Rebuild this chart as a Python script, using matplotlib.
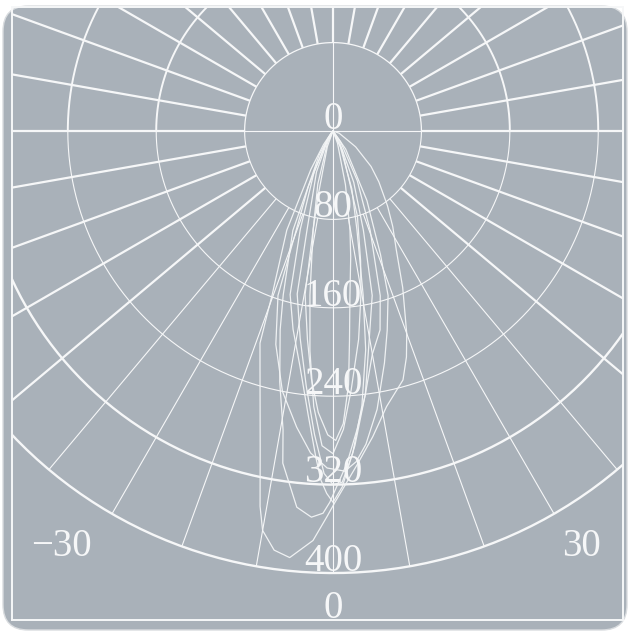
import numpy as np
import matplotlib
matplotlib.use("Agg")
import matplotlib.pyplot as plt
from matplotlib.patches import FancyBboxPatch

# polar grid: rings in cd/klm, spokes every 10 degrees (0 = nadir)
rings = [80, 160, 240, 320, 400]
ring_labels = ["0", "80", "160", "240", "320", "400"]
spokes = list(range(0, 360, 10))
angle_labels = ["\u221230", "30", "0"]

# light distribution curves, angle from nadir (deg, + to the right) and intensity
c1_theta = [-90, -45, -35, -30, -25, -20.4, -19, -17, -15, -13, -11, -10, -8, -5.8, -2.8, -0.9,
            0.3, 4.1, 7.4, 11, 15.7, 18, 20, 24, 28, 32, 36, 42, 47, 55, 70, 90]
c1_r = [0, 2, 15, 40, 99, 158, 203, 226, 255, 293, 346, 367, 383, 388, 371, 349,
        336, 303, 279, 254, 234, 215, 195, 155, 122, 102, 84, 62, 47, 25, 6, 0]

c2_theta = [-90, -40, -30, -22, -16.9, -14.9, -12, -9.5, -8.6, -5.5, -3.2, -1.5, -0.5,
            2.4, 4.6, 7, 10, 13.3, 16, 20.5, 26, 35, 90]
c2_r = [0, 3, 25, 97, 155, 186, 232, 274, 304, 342, 350, 346, 336,
        301, 271, 240, 205, 185, 155, 96, 50, 12, 0]

c3_theta = [-90, -35, -25, -18.4, -14.7, -11.4, -8, -5, -3, -2, -1, 0, 1.5, 4, 7,
            10.5, 13.4, 17, 22, 30, 90]
c3_r = [0, 8, 40, 94, 153, 183, 215, 258, 296, 316, 328, 336, 322, 285, 240,
        183, 153, 94, 50, 12, 0]

c4_theta = [-90, -30, -22, -14.7, -12.4, -9, -6, -3.5, -1.5, 0, 1.5, 3.5, 6, 8.5,
            10.4, 13.6, 18, 25, 90]
c4_r = [0, 10, 40, 93, 151, 190, 232, 275, 310, 320, 318, 292, 250, 200,
        151, 92, 55, 15, 0]

c5_theta = [-90, -32, -24, -18.5, -15, -11, -7, -4, -1, 2, 4, 6, 9, 12.5, 15.2,
            18.5, 21, 26, 35, 90]
c5_r = [0, 10, 55, 157, 200, 240, 270, 292, 305, 308, 300, 285, 255, 215, 187,
        157, 120, 70, 20, 0]

c6_theta = [-90, -25, -16, -11.4, -9.7, -7, -5, -3, -1, 0.5, 2, 3.5, 4.5, 5.9, 8,
            9.7, 13, 20, 90]
c6_r = [0, 12, 50, 91, 150, 190, 225, 255, 275, 280, 265, 230, 190, 149, 115,
        91, 50, 12, 0]

c7_theta = [-90, -20, -13, -11.4, -8, -6, -4, -2, 0, 2, 4, 7, 9.7, 12, 16, 25, 90]
c7_r = [0, 15, 60, 91, 150, 200, 250, 285, 292, 270, 235, 190, 150, 120, 80, 20, 0]

curves = [(c1_theta, c1_r), (c2_theta, c2_r), (c3_theta, c3_r), (c4_theta, c4_r),
          (c5_theta, c5_r), (c6_theta, c6_r), (c7_theta, c7_r)]

BG = "#a9b1b9"
LINE = "#f6f7f8"
FONT = ["Liberation Serif", "DejaVu Serif"]
FS = 28


def to_xy(theta, r):
    t = np.radians(np.asarray(theta, float))
    r = np.asarray(r, float)
    return r * np.sin(t), -r * np.cos(t)


fig = plt.figure(figsize=(6.29, 6.32), dpi=100)
fig.patch.set_facecolor("white")
fig.patches.append(FancyBboxPatch((3 / 629, 2 / 632), 624 / 629, 624 / 632,
                                  boxstyle="round,pad=0,rounding_size=0.04",
                                  transform=fig.transFigure, facecolor=BG,
                                  edgecolor="#d9dcdf", linewidth=1.0, zorder=-10))

ax = fig.add_axes([12 / 629, 12 / 632, 611 / 629, 613 / 632])
ax.set_zorder(5)
ax.set_facecolor("none")
ax.set_xlim(-290.5, 262.4)
ax.set_ylim(-442.5, 112.2)
ax.set_xticks([])
ax.set_yticks([])
for sp in ax.spines.values():
    sp.set_color(LINE)
    sp.set_linewidth(1.4)

# spokes
for a in spokes:
    lower = np.cos(np.radians(a)) > 0.01
    horiz = a in (90, 270)
    vert = a in (0, 180)
    r1 = 400 if lower else 1000
    if horiz or vert:
        x, y = to_xy([a, a], [0, rings[0]])
        ax.plot(x, y, color=LINE, lw=0.8)
    side = abs(((a + 180) % 360) - 180)
    if lower and side < 50:
        lw = 0.8
    else:
        lw = 1.6
    x, y = to_xy([a, a], [rings[0], r1])
    ax.plot(x, y, color=LINE, lw=lw, solid_capstyle="butt")

# rings
up = np.linspace(90, 270, 200)
down = np.linspace(-90, 90, 200)
for rv in rings:
    x, y = to_xy(up, np.full_like(up, rv))
    ax.plot(x, y, color=LINE, lw=0.9 if rv == rings[0] else 1.4)
    x, y = to_xy(down, np.full_like(down, rv))
    ax.plot(x, y, color=LINE, lw=1.7 if rv >= 320 else 0.8)

# curves
for th, rr in curves:
    x, y = to_xy(th, rr)
    ax.plot(x, y, color="#f3f5f6", lw=0.9, alpha=0.95, solid_joinstyle="round")

# ring labels
for val, lab in zip([0] + rings, ring_labels):
    ax.text(0, -val + 2, lab, ha="center", va="baseline", color=LINE,
            fontsize=FS, family=FONT)

ax.text(-246, -376, angle_labels[0], ha="center", va="center", color=LINE,
        fontsize=FS, family=FONT)
ax.text(225, -376, angle_labels[1], ha="center", va="center", color=LINE,
        fontsize=FS, family=FONT)
ax.text(0, -441, angle_labels[2], ha="center", va="baseline", color=LINE,
        fontsize=FS, family=FONT, clip_on=False)

fig.savefig("out.png", dpi=100, facecolor=fig.get_facecolor())
